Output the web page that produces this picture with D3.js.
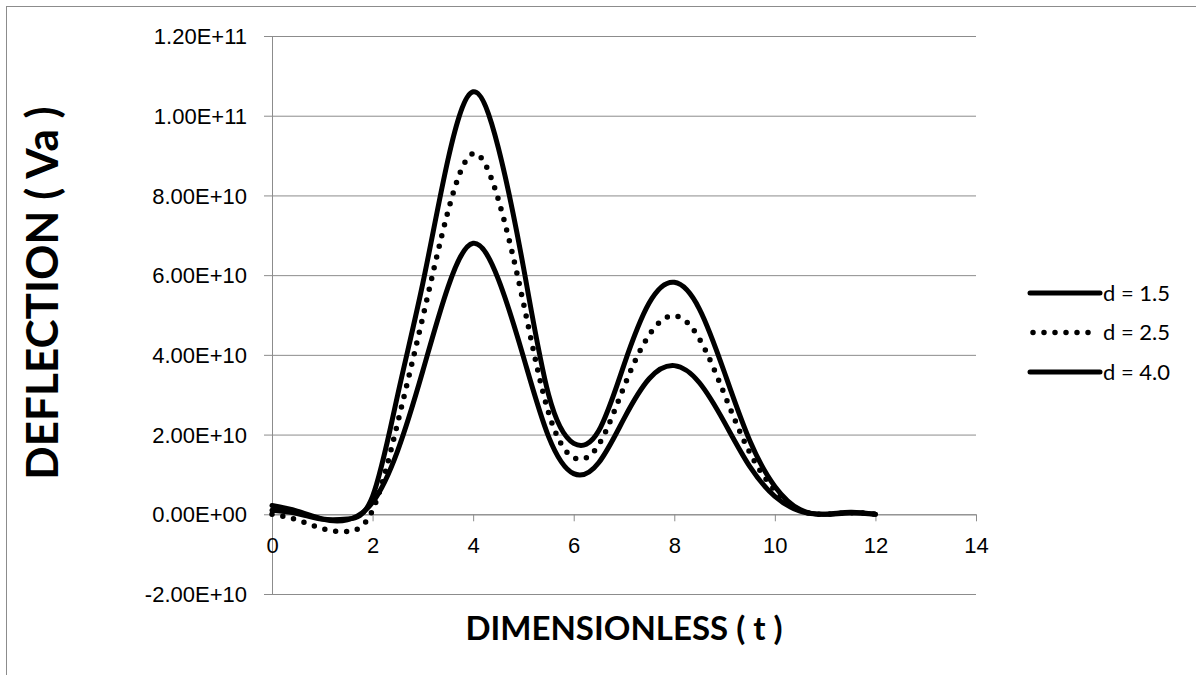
<!DOCTYPE html>
<html lang="en">
<head>
    <meta charset="UTF-8">
    <title>Deflection vs dimensionless time</title>
    <script src="https://d3js.org/d3.v7.min.js"></script>
    <style>
        body {
            margin: 0;
            padding: 0;
            background-color: #fff;
        }
        svg {
            display: block;
            font-family: 'Lato', 'Open Sans', sans-serif;
        }
        .grid line {
            stroke: #8c8c8c;
            stroke-width: 1px;
        }
        .tick text {
            font-size: 22px;
            fill: #000;
        }
        .series {
            fill: none;
            stroke: #000;
            stroke-linejoin: round;
        }
    </style>
</head>
<body>
    <svg width="1196" height="675"></svg>
    <script>
        // t values (dimensionless), step 0.5
        const tValues = [0, 0.5, 1, 1.5, 2, 2.5, 3, 3.5, 4, 4.5, 5, 5.5, 6, 6.5, 7, 7.5, 8, 8.5, 9, 9.5, 10, 10.5, 11, 11.5, 12];

        // deflection in units of 1E10
        const d15 = [0.1, 0.02, -0.12, -0.12, 0.45, 3.0, 5.8, 8.9, 10.6, 9.2, 6.2, 3.0, 1.78, 2.1, 3.75, 5.3, 5.82, 5.15, 3.55, 1.85, 0.7, 0.12, 0.0, 0.05, 0.0];
        const d25 = [0.0, -0.14, -0.36, -0.43, 0.1, 2.3, 4.95, 7.6, 9.05, 7.9, 5.3, 2.55, 1.42, 1.75, 3.2, 4.5, 4.98, 4.4, 3.0, 1.55, 0.6, 0.1, 0.0, 0.04, 0.0];
        const d40 = [0.22, 0.08, -0.12, -0.14, 0.3, 1.6, 3.6, 5.7, 6.8, 5.9, 3.95, 1.95, 1.02, 1.3, 2.4, 3.4, 3.73, 3.3, 2.3, 1.2, 0.45, 0.08, 0.0, 0.03, 0.0];

        const seriesNames = ["d = 1.5", "d = 2.5", "d = 4.0"];
        const seriesData = [d15, d25, d40];
        const seriesDash = [null, "0 11", null];
        const seriesWidth = [5, 5.5, 5];

        const xTicks = [0, 2, 4, 6, 8, 10, 12, 14];
        const yTicks = [-2e10, 0, 2e10, 4e10, 6e10, 8e10, 1e11, 1.2e11];

        const svg = d3.select("svg");

        // outer chart border (only top/left visible in frame)
        svg.append("rect")
            .attr("x", 6.5).attr("y", 6.5)
            .attr("width", 1250).attr("height", 750)
            .attr("fill", "none")
            .attr("stroke", "#8c8c8c");

        const plotLeft = 272, plotRight = 976, plotTop = 36, plotBottom = 594;

        const x = d3.scaleLinear().domain([0, 14]).range([plotLeft, plotRight]);
        const y = d3.scaleLinear().domain([-2e10, 1.2e11]).range([plotBottom, plotTop]);

        // horizontal gridlines + y ticks
        const yAxis = svg.append("g")
            .attr("class", "grid")
            .attr("transform", `translate(${plotLeft},0)`)
            .call(d3.axisLeft(y)
                .tickValues(yTicks)
                .tickSize(-(plotRight - plotLeft))
                .tickPadding(25)
                .tickFormat(v => v.toExponential(2).toUpperCase().replace(/E([+-])(\d)$/, "E$10$2")));
        yAxis.select(".domain").remove();
        yAxis.selectAll(".tick line")
            .attr("x1", -8);
        yAxis.selectAll(".tick text").attr("dy", "0.35em");

        // vertical axis line
        svg.append("line")
            .attr("x1", plotLeft + 0.5).attr("x2", plotLeft + 0.5)
            .attr("y1", plotTop).attr("y2", plotBottom)
            .attr("stroke", "#8c8c8c");

        // x axis at zero
        const xAxis = svg.append("g")
            .attr("class", "grid")
            .attr("transform", `translate(0,${y(0)})`)
            .call(d3.axisBottom(x)
                .tickValues(xTicks)
                .tickSize(7)
                .tickPadding(16)
                .tickFormat(d3.format("d")));
        xAxis.select(".domain")
            .attr("stroke", "#8c8c8c")
            .attr("d", `M${plotLeft},0.5H${plotRight}`);

        // series lines
        const line = d3.line()
            .x((d, i) => x(tValues[i]))
            .y(d => y(d * 1e10))
            .curve(d3.curveNatural);

        seriesData.forEach((vals, k) => {
            svg.append("path")
                .datum(vals)
                .attr("class", "series")
                .attr("d", line)
                .attr("stroke-width", seriesWidth[k])
                .attr("stroke-linecap", "round")
                .attr("stroke-dasharray", seriesDash[k]);
        });

        // legend
        const legend = svg.append("g").attr("transform", "translate(1030,293)");
        seriesNames.forEach((name, k) => {
            const g = legend.append("g").attr("transform", `translate(0,${k * 39.5})`);
            g.append("line")
                .attr("x1", seriesDash[k] ? 3 : 0).attr("x2", seriesDash[k] ? 59 : 70)
                .attr("stroke", "#000")
                .attr("stroke-width", seriesWidth[k])
                .attr("stroke-linecap", "round")
                .attr("stroke-dasharray", seriesDash[k]);
            g.append("text")
                .attr("x", 73).attr("dy", "0.35em")
                .attr("font-size", 22)
                .text(name);
        });

        // axis titles
        svg.append("text")
            .attr("transform", `translate(58,293) rotate(-90)`)
            .attr("text-anchor", "middle")
            .attr("font-size", 44)
            .attr("font-weight", "bold")
            .text("DEFLECTION ( Va )");

        svg.append("text")
            .attr("x", 624).attr("y", 640)
            .attr("text-anchor", "middle")
            .attr("font-size", 33)
            .attr("font-weight", "bold")
            .text("DIMENSIONLESS ( t )");
    </script>
</body>
</html>
